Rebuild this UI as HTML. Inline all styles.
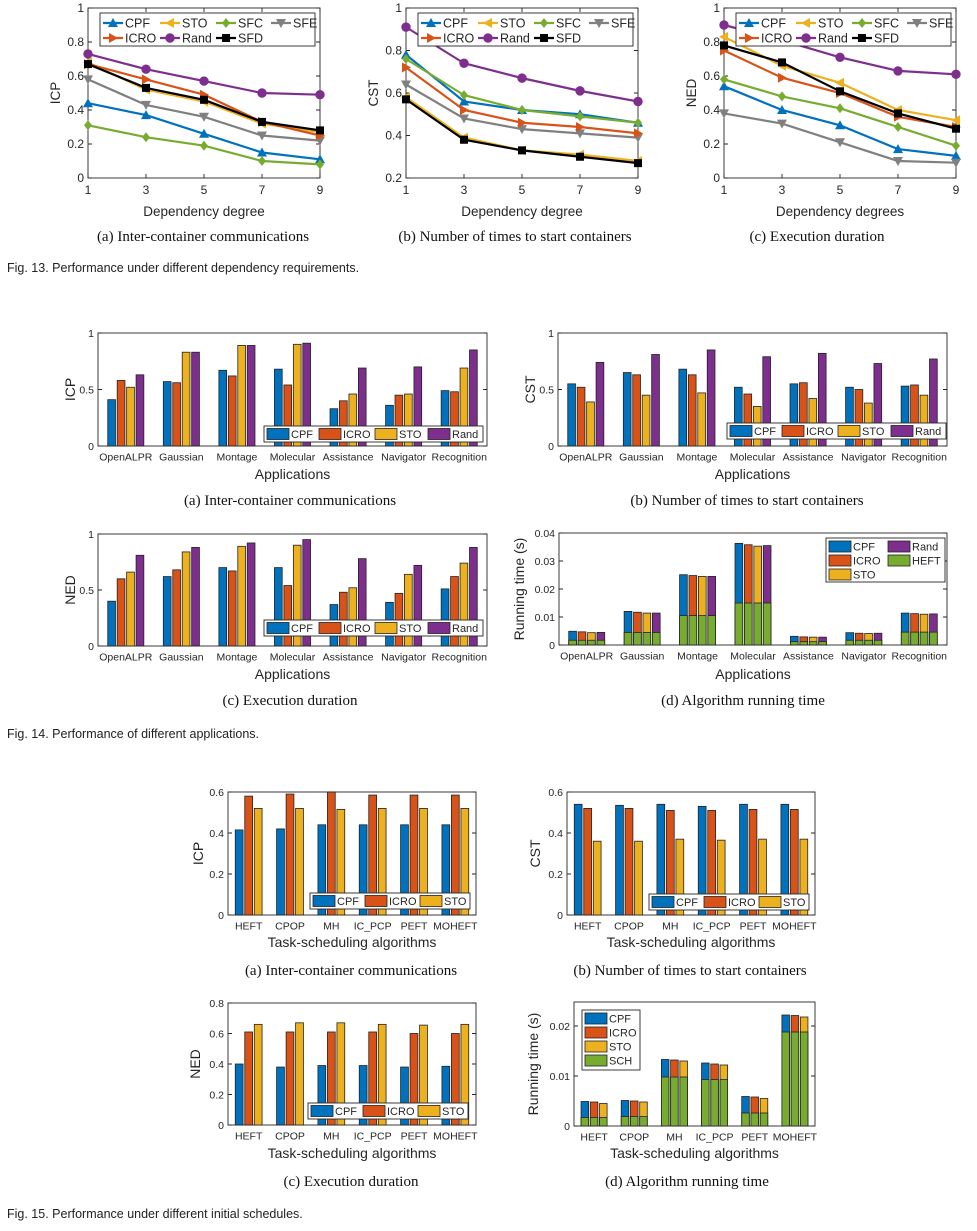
<!DOCTYPE html>
<html><head><meta charset="utf-8"><style>
html,body{margin:0;padding:0;background:#fff;}
svg{display:block;font-family:"Liberation Sans",sans-serif;}
.cap{font-family:"Liberation Serif",serif;font-size:15px;fill:#111;}
.fig{font-family:"Liberation Sans",sans-serif;font-size:12.5px;fill:#222;}
</style></head><body>
<svg id="chart" width="977" height="1231" viewBox="0 0 977 1231"></svg>
<script>
// ---------- Fig 13 data ----------
const depX=[1,3,5,7,9];
const icpCPF=[.44,.37,.26,.15,.11], icpSTO=[.68,.52,.45,.32,.27], icpSFC=[.31,.24,.19,.10,.08], icpSFE=[.58,.43,.36,.25,.22], icpICRO=[.67,.58,.49,.33,.25], icpRand=[.73,.64,.57,.50,.49], icpSFD=[.67,.53,.46,.33,.28];
const cstCPF=[.78,.56,.52,.50,.46], cstSTO=[.58,.39,.33,.31,.28], cstSFC=[.76,.59,.52,.49,.46], cstSFE=[.64,.48,.43,.41,.39], cstICRO=[.72,.52,.46,.44,.41], cstRand=[.91,.74,.67,.61,.56], cstSFD=[.57,.38,.33,.30,.27];
const nedCPF=[.54,.40,.31,.17,.13], nedSTO=[.83,.66,.56,.40,.34], nedSFC=[.58,.48,.41,.30,.19], nedSFE=[.38,.32,.21,.10,.09], nedICRO=[.75,.59,.50,.36,.30], nedRand=[.90,.81,.71,.63,.61], nedSFD=[.78,.68,.51,.38,.29];
const ticks01=[0,0.2,0.4,0.6,0.8,1], ticksCST=[0.2,0.4,0.6,0.8,1];
// ---------- Fig 14 data ----------
const apps=["OpenALPR","Gaussian","Montage","Molecular","Assistance","Navigator","Recognition"];
const a_icpCPF=[.41,.57,.67,.68,.33,.36,.49], a_icpICRO=[.58,.56,.62,.54,.40,.45,.48], a_icpSTO=[.52,.83,.89,.90,.46,.46,.69], a_icpRand=[.63,.83,.89,.91,.69,.70,.85];
const a_cstCPF=[.55,.65,.68,.52,.55,.52,.53], a_cstICRO=[.52,.63,.63,.46,.56,.50,.54], a_cstSTO=[.39,.45,.47,.35,.42,.38,.45], a_cstRand=[.74,.81,.85,.79,.82,.73,.77];
const a_nedCPF=[.40,.62,.70,.70,.37,.39,.51], a_nedICRO=[.60,.68,.67,.54,.48,.47,.62], a_nedSTO=[.66,.84,.89,.90,.52,.64,.74], a_nedRand=[.81,.88,.92,.95,.78,.72,.88];
const a_rtCPF=[.0049,.0120,.0251,.0363,.0031,.0044,.0114], a_rtICRO=[.0047,.0117,.0248,.0358,.0029,.0042,.0112], a_rtSTO=[.0044,.0114,.0245,.0353,.0028,.0041,.0110], a_rtRand=[.0045,.0114,.0245,.0355,.0028,.0042,.0111], a_rtHEFT=[.0017,.0045,.0105,.0150,.0012,.0017,.0046];
const ticks0_05_1=[0,0.5,1], ticksRT14=[0,0.01,0.02,0.03,0.04];
// ---------- Fig 15 data ----------
const algs=["HEFT","CPOP","MH","IC_PCP","PEFT","MOHEFT"];
const s_icpCPF=[.415,.42,.44,.44,.44,.44], s_icpICRO=[.58,.59,.60,.585,.585,.585], s_icpSTO=[.52,.52,.515,.52,.52,.52];
const s_cstCPF=[.54,.535,.54,.53,.54,.54], s_cstICRO=[.52,.52,.51,.51,.515,.515], s_cstSTO=[.36,.36,.37,.365,.37,.37];
const s_nedCPF=[.40,.38,.39,.39,.38,.385], s_nedICRO=[.61,.61,.61,.61,.60,.60], s_nedSTO=[.66,.67,.67,.66,.655,.66];
const s_rtCPF=[.0049,.0051,.0133,.0126,.0059,.0222], s_rtICRO=[.0048,.0050,.0132,.0124,.0058,.0221], s_rtSTO=[.0045,.0048,.0130,.0122,.0055,.0218], s_rtSCH=[.0017,.0019,.0098,.0093,.0026,.0188];
const ticks06=[0,0.2,0.4,0.6], ticks08=[0,0.2,0.4,0.6,0.8], ticksRT15=[0,0.01,0.02];

const C={CPF:"#0072BD",ICRO:"#D95319",STO:"#EDB120",Rand:"#7E2F8E",SFC:"#77AC30",SFE:"#808080",SFD:"#000000",GREEN:"#77AC30"};
const NS="http://www.w3.org/2000/svg";
const svg=document.getElementById("chart");
function mk(tag,attrs,parent){const e=document.createElementNS(NS,tag);for(const k in attrs)e.setAttribute(k,attrs[k]);(parent||svg).appendChild(e);return e;}
function tx(x,y,s,size,anchor,parent,rot){const e=mk("text",{x:x,y:y,"font-size":size,"text-anchor":anchor||"middle",fill:"#262626"},parent);if(rot)e.setAttribute("transform","rotate(-90 "+x+" "+y+")");e.textContent=s;return e;}
function fmt(v){return (Math.round(v*1000)/1000).toString();}

function axes(g,b,yt,ys,xpos,xlab,opt){
  mk("rect",{x:b.x0,y:b.y1,width:b.x1-b.x0,height:b.y0-b.y1,fill:"none",stroke:"#262626","stroke-width":0.9},g);
  yt.forEach(v=>{const y=ys(v);
    const tk=mk("path",{d:`M${b.x0} ${y}h4M${b.x1} ${y}h-4`,stroke:"#262626","stroke-width":0.9},g);
    
    
    const t=tx(b.x0-4,y+4,fmt(v),opt.tick,"end",g);
    
    
  });
  xpos.forEach((x,i)=>{
    if(opt.xticks){const tk=mk("path",{d:`M${x} ${b.y0}v-4M${x} ${b.y1}v4`,stroke:"#262626","stroke-width":0.9},g);
      
      }
    const t=tx(x,b.y0+opt.tick+4,xlab[i],opt.tick,"middle",g);
    
    
  });
  const xl=tx((b.x0+b.x1)/2,opt.xly,opt.xl,opt.lab,"middle",g);
  
  
  const yl=tx(opt.ylx,(b.y0+b.y1)/2,opt.yl,opt.lab,"middle",g,true);
  
  
}

function marker(g,type,x,y,col){
  const r=5;let e;
  if(type==="o")e=mk("circle",{cx:x,cy:y,r:4.2,fill:col,stroke:col},g);
  else if(type==="s")e=mk("rect",{x:x-4,y:y-4,width:8,height:8,fill:col},g);
  else if(type==="d")e=mk("path",{d:`M${x} ${y-r}L${x+4} ${y}L${x} ${y+r}L${x-4} ${y}Z`,fill:col},g);
  else if(type==="^")e=mk("path",{d:`M${x} ${y-r}L${x+r} ${y+4}L${x-r} ${y+4}Z`,fill:col},g);
  else if(type==="v")e=mk("path",{d:`M${x} ${y+r}L${x+r} ${y-4}L${x-r} ${y-4}Z`,fill:col},g);
  else if(type===">")e=mk("path",{d:`M${x+r} ${y}L${x-4} ${y-r}L${x-4} ${y+r}Z`,fill:col},g);
  else if(type==="<")e=mk("path",{d:`M${x-r} ${y}L${x+4} ${y-r}L${x+4} ${y+r}Z`,fill:col},g);
  return e;
}

function lineChart(name,b,ymin,ymax,yt,series,opt){
  const g=mk("g",{});
  
  
  const xs=v=>b.x0+(v-1)/8*(b.x1-b.x0), ys=v=>b.y0-(v-ymin)/(ymax-ymin)*(b.y0-b.y1);
  axes(g,b,yt,ys,depX.map(xs),depX.map(String),opt);
  series.forEach(s=>{
    const sg=mk("g",{},g);
    
    
    const pl=mk("polyline",{points:s.v.map((v,i)=>xs(depX[i])+","+ys(v)).join(" "),fill:"none",stroke:s.c,"stroke-width":2.2},sg);
    
    
    s.v.forEach((v,i)=>{const m=marker(sg,s.m,xs(depX[i]),ys(v),s.c);
      
      });
  });
  const lg=mk("g",{},g);
  
  
  mk("rect",{x:b.x0+12,y:b.y1+5,width:215,height:33,fill:"#fff",stroke:"#262626","stroke-width":0.9},lg);
  const cols=[0,57,113,168];
  series.forEach((s,i)=>{
    const col=i<4?i:i-4,row=i<4?0:1;
    const x=b.x0+15+cols[col],y=b.y1+15+row*15;
    const ent=mk("g",{},lg);
    
    
    mk("line",{x1:x,x2:x+20,y1:y,y2:y,stroke:s.c,"stroke-width":2.2},ent);
    marker(ent,s.m,x+10,y,s.c);
    tx(x+22,y+4.5,s.n,12.5,"start",ent);
  });
}

function legendPatch(g,x,y,w,h,col,label){
  const ent=mk("g",{},g);
  
  
  mk("rect",{x:x,y:y,width:w,height:h,fill:col,stroke:"#222","stroke-width":0.8},ent);
  tx(x+w+2,y+h-1.5,label,11,"start",ent);
}

function barChart(name,b,ymax,yt,cats,series,opt){
  const g=mk("g",{});
  
  
  const gw=(b.x1-b.x0)/cats.length, ys=v=>b.y0-Math.min(v,ymax)/ymax*(b.y0-b.y1);
  const n=series.length, slot=gw*opt.slotF, bw=slot*0.82;
  axes(g,b,yt,ys,cats.map((c,i)=>b.x0+(i+0.5)*gw),cats,opt);
  cats.forEach((c,i)=>{const cx=b.x0+(i+0.5)*gw;
    series.forEach((s,j)=>{
      const x=cx+(j-(n-1)/2)*slot-bw/2;
      const top=ys(s.v[i]);
      const r=mk("rect",{x:x,y:top,width:bw,height:b.y0-top,fill:s.c,stroke:"#222","stroke-width":0.8},g);
      
      
      if(opt.base){const bt=ys(opt.base[i]);
        const r2=mk("rect",{x:x,y:bt,width:bw,height:b.y0-bt,fill:C.GREEN,stroke:"#222","stroke-width":0.8},g);
        
        }
    });
  });
  const lg=mk("g",{},g);
  
  
  const L=opt.leg;
  mk("rect",{x:L.x,y:L.y,width:L.w,height:L.h,fill:"#fff",stroke:"#262626","stroke-width":0.9},lg);
  L.items.forEach(it=>legendPatch(lg,it[0],it[1],L.pw,L.ph,it[2],it[3]));
}

// ---------- Fig 13 ----------
const o13={tick:12,lab:13.5,xticks:true};
lineChart("chart-13a-icp",{x0:88,x1:320,y0:178,y1:8},0,1,ticks01,[
 {n:"CPF",v:icpCPF,c:C.CPF,m:"^"},{n:"STO",v:icpSTO,c:C.STO,m:"<"},{n:"SFC",v:icpSFC,c:C.SFC,m:"d"},{n:"SFE",v:icpSFE,c:C.SFE,m:"v"},
 {n:"ICRO",v:icpICRO,c:C.ICRO,m:">"},{n:"Rand",v:icpRand,c:C.Rand,m:"o"},{n:"SFD",v:icpSFD,c:C.SFD,m:"s"}],
 Object.assign({xl:"Dependency degree",yl:"ICP",xly:216,ylx:60},o13));
lineChart("chart-13b-cst",{x0:406,x1:638,y0:178,y1:8},0.2,1,ticksCST,[
 {n:"CPF",v:cstCPF,c:C.CPF,m:"^"},{n:"STO",v:cstSTO,c:C.STO,m:"<"},{n:"SFC",v:cstSFC,c:C.SFC,m:"d"},{n:"SFE",v:cstSFE,c:C.SFE,m:"v"},
 {n:"ICRO",v:cstICRO,c:C.ICRO,m:">"},{n:"Rand",v:cstRand,c:C.Rand,m:"o"},{n:"SFD",v:cstSFD,c:C.SFD,m:"s"}],
 Object.assign({xl:"Dependency degree",yl:"CST",xly:216,ylx:378},o13));
lineChart("chart-13c-ned",{x0:724,x1:956,y0:178,y1:8},0,1,ticks01,[
 {n:"CPF",v:nedCPF,c:C.CPF,m:"^"},{n:"STO",v:nedSTO,c:C.STO,m:"<"},{n:"SFC",v:nedSFC,c:C.SFC,m:"d"},{n:"SFE",v:nedSFE,c:C.SFE,m:"v"},
 {n:"ICRO",v:nedICRO,c:C.ICRO,m:">"},{n:"Rand",v:nedRand,c:C.Rand,m:"o"},{n:"SFD",v:nedSFD,c:C.SFD,m:"s"}],
 Object.assign({xl:"Dependency degrees",yl:"NED",xly:216,ylx:696},o13));

// ---------- Fig 14 ----------
const o14={tick:10.5,lab:14,slotF:0.17,xticks:false};
function leg4(x,y){return {x:x,y:y,w:219,h:16,pw:22,ph:11,items:[[x+3,y+2.5,C.CPF,"CPF"],[x+55,y+2.5,C.ICRO,"ICRO"],[x+111,y+2.5,C.STO,"STO"],[x+164,y+2.5,C.Rand,"Rand"]]};}
barChart("chart-14a-icp",{x0:98,x1:487,y0:446,y1:333},1,ticks0_05_1,apps,[
 {n:"CPF",v:a_icpCPF,c:C.CPF},{n:"ICRO",v:a_icpICRO,c:C.ICRO},{n:"STO",v:a_icpSTO,c:C.STO},{n:"Rand",v:a_icpRand,c:C.Rand}],
 Object.assign({xl:"Applications",yl:"ICP",xly:479,ylx:75,leg:leg4(264,426)},o14));
barChart("chart-14b-cst",{x0:558,x1:947,y0:446,y1:333},1,ticks0_05_1,apps,[
 {n:"CPF",v:a_cstCPF,c:C.CPF},{n:"ICRO",v:a_cstICRO,c:C.ICRO},{n:"STO",v:a_cstSTO,c:C.STO},{n:"Rand",v:a_cstRand,c:C.Rand}],
 Object.assign({xl:"Applications",yl:"CST",xly:479,ylx:535,leg:leg4(727,423)},o14));
barChart("chart-14c-ned",{x0:98,x1:487,y0:646,y1:534},1,ticks0_05_1,apps,[
 {n:"CPF",v:a_nedCPF,c:C.CPF},{n:"ICRO",v:a_nedICRO,c:C.ICRO},{n:"STO",v:a_nedSTO,c:C.STO},{n:"Rand",v:a_nedRand,c:C.Rand}],
 Object.assign({xl:"Applications",yl:"NED",xly:679,ylx:75,leg:leg4(264,620)},o14));
barChart("chart-14d-runtime",{x0:559,x1:947,y0:645,y1:533},0.04,ticksRT14,apps,[
 {n:"CPF",v:a_rtCPF,c:C.CPF},{n:"ICRO",v:a_rtICRO,c:C.ICRO},{n:"STO",v:a_rtSTO,c:C.STO},{n:"Rand",v:a_rtRand,c:C.Rand}],
 Object.assign({xl:"Applications",yl:"Running time (s)",xly:679,ylx:524,base:a_rtHEFT,baseName:"heft",
  leg:{x:826,y:538,w:119,h:44,pw:22,ph:11,items:[[829,541,C.CPF,"CPF"],[829,555,C.ICRO,"ICRO"],[829,569,C.STO,"STO"],[888,541,C.Rand,"Rand"],[888,555,C.GREEN,"HEFT"]]}},o14));

// ---------- Fig 15 ----------
const o15={tick:10.5,lab:14,slotF:0.23,xticks:false};
function leg3(x,y){return {x:x,y:y,w:160,h:16,pw:22,ph:11,items:[[x+3,y+2.5,C.CPF,"CPF"],[x+55,y+2.5,C.ICRO,"ICRO"],[x+110,y+2.5,C.STO,"STO"]]};}
barChart("chart-15a-icp",{x0:228,x1:476,y0:915,y1:792},0.6,ticks06,algs,[
 {n:"CPF",v:s_icpCPF,c:C.CPF},{n:"ICRO",v:s_icpICRO,c:C.ICRO},{n:"STO",v:s_icpSTO,c:C.STO}],
 Object.assign({xl:"Task-scheduling algorithms",yl:"ICP",xly:947,ylx:203,leg:leg3(310,893)},o15));
barChart("chart-15b-cst",{x0:567,x1:815,y0:915,y1:792},0.6,ticks06,algs,[
 {n:"CPF",v:s_cstCPF,c:C.CPF},{n:"ICRO",v:s_cstICRO,c:C.ICRO},{n:"STO",v:s_cstSTO,c:C.STO}],
 Object.assign({xl:"Task-scheduling algorithms",yl:"CST",xly:947,ylx:540,leg:leg3(649,894)},o15));
barChart("chart-15c-ned",{x0:228,x1:476,y0:1125,y1:1003},0.8,ticks08,algs,[
 {n:"CPF",v:s_nedCPF,c:C.CPF},{n:"ICRO",v:s_nedICRO,c:C.ICRO},{n:"STO",v:s_nedSTO,c:C.STO}],
 Object.assign({xl:"Task-scheduling algorithms",yl:"NED",xly:1158,ylx:200,leg:leg3(308,1103)},o15));
barChart("chart-15d-runtime",{x0:574,x1:815,y0:1126,y1:1002},0.0248,ticksRT15,algs,[
 {n:"CPF",v:s_rtCPF,c:C.CPF},{n:"ICRO",v:s_rtICRO,c:C.ICRO},{n:"STO",v:s_rtSTO,c:C.STO}],
 Object.assign({xl:"Task-scheduling algorithms",yl:"Running time (s)",xly:1158,ylx:538,base:s_rtSCH,baseName:"sch",
  leg:{x:582,y:1010,w:58,h:60,pw:22,ph:11,items:[[585,1013,C.CPF,"CPF"],[585,1027,C.ICRO,"ICRO"],[585,1041,C.STO,"STO"],[585,1055,C.GREEN,"SCH"]]}},o15));

// ---------- Captions ----------
const caps=[[203,241,"(a)  Inter-container communications"],[515,241,"(b)  Number of times to start containers"],[817,241,"(c)  Execution duration"],
 [290,505,"(a)  Inter-container communications"],[747,505,"(b)  Number of times to start containers"],
 [290,705,"(c)  Execution duration"],[743,705,"(d)  Algorithm running time"],
 [351,975,"(a)  Inter-container communications"],[690,975,"(b)  Number of times to start containers"],
 [351,1186,"(c)  Execution duration"],[687,1186,"(d)  Algorithm running time"]];
caps.forEach(c=>{const t=mk("text",{x:c[0],y:c[1],"text-anchor":"middle",class:"cap"});t.textContent=c[2];
 
 });
const figs=[[272,"Fig. 13. Performance under different dependency requirements."],[738,"Fig. 14. Performance of different applications."],[1218,"Fig. 15. Performance under different initial schedules."]];
figs.forEach(f=>{const t=mk("text",{x:7,y:f[0],class:"fig"});t.textContent=f[1];
 
 });
</script>
</body></html>
